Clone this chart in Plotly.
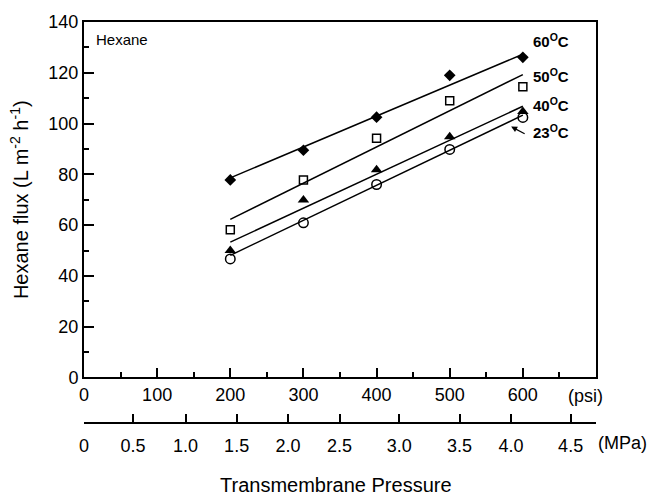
import plotly.graph_objects as go

# ---------------- data ----------------
pressure_psi = [200, 300, 400, 500, 600]

flux_60C = [77.8, 89.5, 102.5, 119.0, 126.1]
flux_50C = [58.2, 77.8, 94.2, 109.0, 114.5]
flux_40C = [50.0, 69.9, 81.8, 94.8, 104.8]
flux_23C = [46.7, 60.9, 76.0, 89.8, 102.4]

# fitted straight lines (value at 200 psi and at 600 psi)
fit_x = [200, 600]
fit_60C = [78.6, 127.3]
fit_50C = [62.3, 119.3]
fit_40C = [53.3, 106.8]
fit_23C = [48.1, 103.3]

psi_ticks = [0, 100, 200, 300, 400, 500, 600]
psi_minor = [50, 150, 250, 350, 450, 550, 650]
flux_ticks = [0, 20, 40, 60, 80, 100, 120, 140]
flux_minor = [10, 30, 50, 70, 90, 110, 130]

# secondary pressure scale as drawn in the figure (MPa label, psi position)
mpa_labels = ["0", "0.5", "1.0", "1.5", "2.0", "2.5", "3.0", "3.5", "4.0", "4.5"]
mpa_tick_psi = [0, 66.6, 137.7, 207, 276.8, 346.6, 427.6, 509.3, 579, 660]

FONT = "Liberation Sans, Arial, sans-serif"

fig = go.Figure()

series = [
    (flux_60C, fit_60C, dict(symbol="diamond", size=9, color="black")),
    (flux_50C, fit_50C, dict(symbol="square-open", size=8, color="black", line=dict(width=1.5, color="black"))),
    (flux_40C, fit_40C, dict(symbol="triangle-up", size=10, color="black")),
    (flux_23C, fit_23C, dict(symbol="circle-open", size=9.5, color="black", line=dict(width=1.5, color="black"))),
]
for pts, fit, mk in series:
    fig.add_trace(go.Scatter(x=fit_x, y=fit, mode="lines",
                             line=dict(color="black", width=1.5),
                             showlegend=False, hoverinfo="skip"))
    fig.add_trace(go.Scatter(x=pressure_psi, y=pts, mode="markers",
                             marker=mk, showlegend=False))

# invisible trace to carry the MPa axis
fig.add_trace(go.Scatter(x=[0], y=[0], xaxis="x2", yaxis="y", mode="markers",
                         marker=dict(opacity=0), showlegend=False, hoverinfo="skip"))

bottom_px = 422.7
top_px = 17.4
plot_bottom = 376.7
ydom0 = (bottom_px - plot_bottom) / (bottom_px - top_px)

fig.update_layout(
    width=647, height=497,
    margin=dict(l=84, r=51, t=17.4, b=497 - bottom_px),
    paper_bgcolor="white", plot_bgcolor="white",
    font=dict(family=FONT, color="black", size=18),
    xaxis=dict(
        range=[0, 700], domain=[0, 1], anchor="y",
        showline=True, linewidth=2, linecolor="black", mirror=True,
        showgrid=False, zeroline=False,
        ticks="inside", ticklen=9, tickwidth=1.5, tickcolor="black",
        tickvals=psi_ticks, ticktext=[str(v) for v in psi_ticks],
        tickfont=dict(size=18),
        minor=dict(tickvals=psi_minor, ticks="inside", ticklen=5, tickwidth=1.5, tickcolor="black", showgrid=False),
    ),
    xaxis2=dict(
        range=[0, 700 * 0.992], domain=[0, 0.992], anchor="free", position=0,
        overlaying="x", side="bottom",
        showline=True, linewidth=2, linecolor="black",
        showgrid=False, zeroline=False,
        ticks="inside", ticklen=8, tickwidth=1.5, tickcolor="black",
        tickvals=mpa_tick_psi, ticktext=mpa_labels,
        tickfont=dict(size=18), ticklabelstandoff=6,
    ),
    yaxis=dict(
        range=[0, 140], domain=[ydom0, 1],
        showline=True, linewidth=2, linecolor="black", mirror=True,
        showgrid=False, zeroline=False,
        ticks="inside", ticklen=10, tickwidth=1.5, tickcolor="black",
        tickvals=flux_ticks, tickfont=dict(size=18),
        minor=dict(tickvals=flux_minor, ticks="inside", ticklen=5, tickwidth=1.5, tickcolor="black", showgrid=False),
        title=dict(text="Hexane flux (L m<sup>-2</sup> h<sup>-1</sup>)", font=dict(size=20), standoff=14),
    ),
)

temp_labels = [("60<sup>O</sup>C", 132.8), ("50<sup>O</sup>C", 118.8),
               ("40<sup>O</sup>C", 107.5), ("23<sup>O</sup>C", 96.7)]
for txt, yv in temp_labels:
    fig.add_annotation(x=611, y=yv, xref="x", yref="y", text="<b>" + txt + "</b>",
                       showarrow=False, xanchor="left", yanchor="middle",
                       font=dict(size=15, family=FONT))

# arrow pointing at the 23 C line
fig.add_annotation(x=584, y=98.8, xref="x", yref="y", text="", showarrow=True,
                   ax=15, ay=8, arrowhead=2, arrowsize=1, arrowwidth=1.2, arrowcolor="black")

fig.add_annotation(x=13, y=133.2, xref="x", yref="y", text="Hexane", showarrow=False,
                   xanchor="left", yanchor="middle", font=dict(size=15))

fig.add_annotation(x=0.98, y=(bottom_px - 395) / (bottom_px - top_px), xref="paper", yref="paper",
                   text="(psi)", showarrow=False, xanchor="center", yanchor="middle", font=dict(size=18))
fig.add_annotation(x=(596 - 84) / 512, y=(bottom_px - 443) / (bottom_px - top_px), xref="paper", yref="paper",
                   text="(MPa)", showarrow=False, xanchor="left", yanchor="middle", font=dict(size=18))
fig.add_annotation(x=(336 - 84) / 512, y=(bottom_px - 485.5) / (bottom_px - top_px), xref="paper", yref="paper",
                   text="Transmembrane Pressure", showarrow=False, xanchor="center", yanchor="middle",
                   font=dict(size=20))

fig.write_html("out.html")
